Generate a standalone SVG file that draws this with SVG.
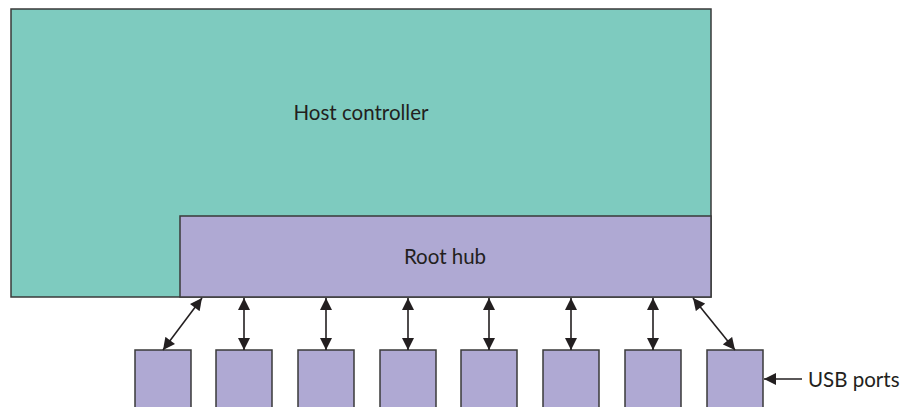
<svg xmlns="http://www.w3.org/2000/svg" width="911" height="407" viewBox="0 0 911 407">
  <style>
    .box { stroke: #3a3a3a; stroke-width: 1.5; }
    .host { fill: #7ecbbf; }
    .hub, .port { fill: #afa9d3; }
    .lbl { font-family: "Lato", "Open Sans", sans-serif; font-size: 20.5px; fill: #231f20; }
    .wire { stroke: #231f20; stroke-width: 1.6; fill: none; }
  </style>
  <defs>
    <marker id="head" viewBox="0 0 10 10" refX="10" refY="5" markerWidth="13" markerHeight="12" markerUnits="userSpaceOnUse" orient="auto-start-reverse">
      <path d="M0,0 L10,5 L0,10 Z" fill="#231f20"/>
    </marker>
  </defs>

  <g id="host-controller">
    <rect class="box host" x="11" y="9" width="700" height="288"/>
    <text class="lbl" x="361" y="120" text-anchor="middle">Host controller</text>
  </g>

  <g id="root-hub">
    <rect class="box hub" x="180" y="216" width="531" height="81"/>
    <text class="lbl" x="445" y="264" text-anchor="middle">Root hub</text>
  </g>

  <g id="ports">
    <rect id="port-1" class="box port" x="135" y="350" width="56" height="60"/>
    <rect id="port-2" class="box port" x="216" y="350" width="56" height="60"/>
    <rect id="port-3" class="box port" x="298" y="350" width="56" height="60"/>
    <rect id="port-4" class="box port" x="380" y="350" width="56" height="60"/>
    <rect id="port-5" class="box port" x="461" y="350" width="56" height="60"/>
    <rect id="port-6" class="box port" x="543" y="350" width="56" height="60"/>
    <rect id="port-7" class="box port" x="625" y="350" width="56" height="60"/>
    <rect id="port-8" class="box port" x="707" y="350" width="56" height="60"/>
  </g>

  <g id="usb-ports-label">
    <text class="lbl" x="808" y="387">USB ports</text>
  </g>

  <g id="connectors">
    <line class="wire" x1="202" y1="298" x2="163" y2="350" marker-start="url(#head)" marker-end="url(#head)"/>
    <line class="wire" x1="244" y1="298" x2="244" y2="350" marker-start="url(#head)" marker-end="url(#head)"/>
    <line class="wire" x1="326" y1="298" x2="326" y2="350" marker-start="url(#head)" marker-end="url(#head)"/>
    <line class="wire" x1="408" y1="298" x2="408" y2="350" marker-start="url(#head)" marker-end="url(#head)"/>
    <line class="wire" x1="489" y1="298" x2="489" y2="350" marker-start="url(#head)" marker-end="url(#head)"/>
    <line class="wire" x1="571" y1="298" x2="571" y2="350" marker-start="url(#head)" marker-end="url(#head)"/>
    <line class="wire" x1="653" y1="298" x2="653" y2="350" marker-start="url(#head)" marker-end="url(#head)"/>
    <line class="wire" x1="693" y1="298" x2="735" y2="350" marker-start="url(#head)" marker-end="url(#head)"/>
    <line class="wire" x1="802" y1="379" x2="764" y2="379" marker-end="url(#head)"/>
  </g>
</svg>
